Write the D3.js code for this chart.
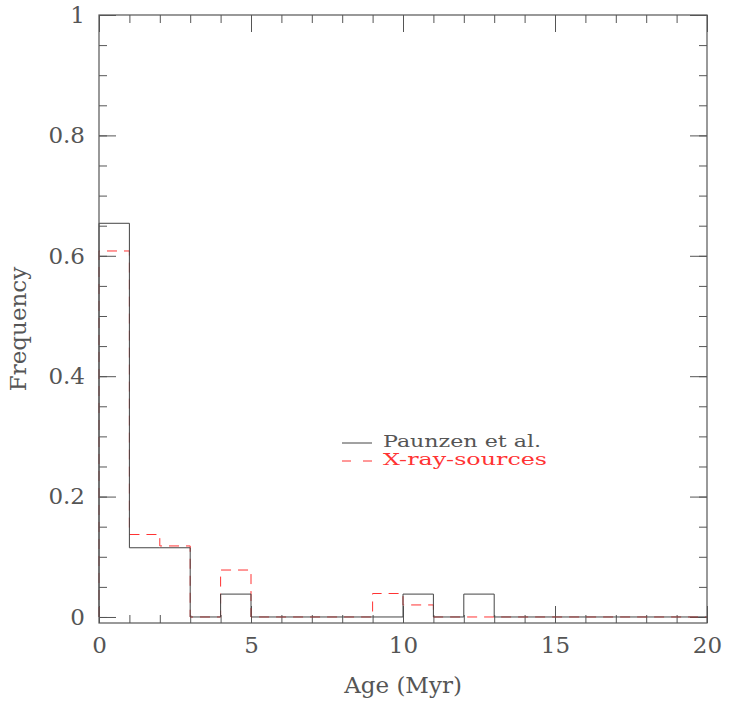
<!DOCTYPE html>
<html>
<head>
<meta charset="utf-8">
<script src="https://cdn.jsdelivr.net/npm/d3@7"></script>
<style>
    body { margin: 0; background: #fff; }
    text { font-family: 'DejaVu Serif', serif; fill: #555; }
</style>
</head>
<body>
<div id="chart"></div>
<script>
    // bin edges 0..20 Myr, width 1
    var binEdges = d3.range(0, 21, 1);
    // Paunzen et al. (solid black)
    var paunzen = [0.654, 0.115, 0.115, 0, 0.038, 0, 0, 0, 0, 0,
                   0.038, 0, 0.038, 0, 0, 0, 0, 0, 0, 0];
    // X-ray sources (dashed red)
    var xray = [0.608, 0.137, 0.118, 0, 0.078, 0, 0, 0, 0, 0.039,
                0.020, 0, 0, 0, 0, 0, 0, 0, 0, 0];
    var xMajor = [0, 5, 10, 15, 20];
    var yMajor = [0, 0.2, 0.4, 0.6, 0.8, 1];
    var yMajorLabels = ["0", "0.2", "0.4", "0.6", "0.8", "1"];

    var width = 729, height = 702;
    var margin = {top: 15, right: 22, bottom: 79, left: 99};
    var w = width - margin.left - margin.right,
        h = height - margin.top - margin.bottom;

    var x = d3.scaleLinear().domain([0, 20]).range([0, w]);
    var y = d3.scaleLinear().domain([-0.01, 1]).range([h, 0]);

    var svg = d3.select("#chart").append("svg")
        .attr("width", width)
        .attr("height", height)
        .style("background", "#fff");

    var g = svg.append("g")
        .attr("transform", "translate(" + margin.left + "," + margin.top + ")");

    var axisColor = "#555";

    function styleAxis(sel) {
        sel.select(".domain").remove();
        sel.selectAll("line").attr("stroke", axisColor).attr("stroke-width", 1);
        sel.selectAll("text").style("font-size", "23px").attr("fill", "#555");
    }

    // minor ticks, all four sides
    var xMinor = d3.range(0, 21, 1), yMinor = d3.range(0, 1.0001, 0.05);
    g.append("g").attr("transform", "translate(0," + h + ")")
        .call(d3.axisBottom(x).tickValues(xMinor).tickSize(-8).tickFormat("")).call(styleAxis);
    g.append("g")
        .call(d3.axisTop(x).tickValues(xMinor).tickSize(-8).tickFormat("")).call(styleAxis);
    g.append("g")
        .call(d3.axisLeft(y).tickValues(yMinor).tickSize(-8).tickFormat("")).call(styleAxis);
    g.append("g").attr("transform", "translate(" + w + ",0)")
        .call(d3.axisRight(y).tickValues(yMinor).tickSize(-8).tickFormat("")).call(styleAxis);

    // major ticks with labels
    g.append("g").attr("transform", "translate(0," + h + ")")
        .call(d3.axisBottom(x).tickValues(xMajor).tickSize(-17).tickPadding(14).tickFormat(d3.format("d")))
        .call(styleAxis)
        .selectAll("text").attr("dy", "0.71em");
    g.append("g")
        .call(d3.axisTop(x).tickValues(xMajor).tickSize(-17).tickFormat("")).call(styleAxis);
    g.append("g")
        .call(d3.axisLeft(y).tickValues(yMajor).tickSize(-17).tickPadding(14)
            .tickFormat(function(d, i) { return yMajorLabels[i]; }))
        .call(styleAxis);
    g.append("g").attr("transform", "translate(" + w + ",0)")
        .call(d3.axisRight(y).tickValues(yMajor).tickSize(-17).tickFormat("")).call(styleAxis);

    // histogram outlines
    function stepPoints(vals) {
        var pts = [[binEdges[0], 0]];
        vals.forEach(function(v, i) {
            pts.push([binEdges[i], v]);
            pts.push([binEdges[i + 1], v]);
        });
        pts.push([binEdges[binEdges.length - 1], 0]);
        return pts;
    }
    var line = d3.line()
        .x(function(d) { return x(d[0]); })
        .y(function(d) { return y(d[1]); });

    g.append("path")
        .datum(stepPoints(xray))
        .attr("d", line)
        .attr("fill", "none")
        .attr("stroke", "#ff3333")
        .attr("stroke-width", 1)
        .attr("stroke-dasharray", "10,7");

    g.append("path")
        .datum(stepPoints(paunzen))
        .attr("d", line)
        .attr("fill", "none")
        .attr("stroke", "#444")
        .attr("stroke-width", 1);

    // frame (on top, hides the dashed edge at x=0)
    g.append("rect")
        .attr("x", 0).attr("y", 0)
        .attr("width", w).attr("height", h)
        .attr("fill", "none")
        .attr("stroke", axisColor)
        .attr("stroke-width", 1.2);

    // axis titles
    svg.append("text")
        .attr("x", margin.left + w / 2)
        .attr("y", 693)
        .attr("text-anchor", "middle")
        .style("font-size", "23px")
        .text("Age (Myr)");

    svg.append("text")
        .attr("transform", "translate(26," + (margin.top + h / 2 + 10) + ") rotate(-90)")
        .attr("text-anchor", "middle")
        .style("font-size", "23px")
        .text("Frequency");

    // legend
    var legend = svg.append("g").attr("transform", "translate(342,443)");
    legend.append("line")
        .attr("x1", 0).attr("x2", 30).attr("y1", 0).attr("y2", 0)
        .attr("stroke", "#444");
    legend.append("text")
        .attr("x", 41).attr("y", 4)
        .attr("textLength", 158)
        .attr("lengthAdjust", "spacingAndGlyphs")
        .style("font-size", "16px")
        .text("Paunzen et al.");
    legend.append("line")
        .attr("x1", 0).attr("x2", 30).attr("y1", 18).attr("y2", 18)
        .attr("stroke", "#ff3333")
        .attr("stroke-dasharray", "9,12");
    legend.append("text")
        .attr("x", 41).attr("y", 22)
        .attr("textLength", 164)
        .attr("lengthAdjust", "spacingAndGlyphs")
        .style("font-size", "16px")
        .style("fill", "#ff3333")
        .text("X-ray-sources");
</script>
</body>
</html>
